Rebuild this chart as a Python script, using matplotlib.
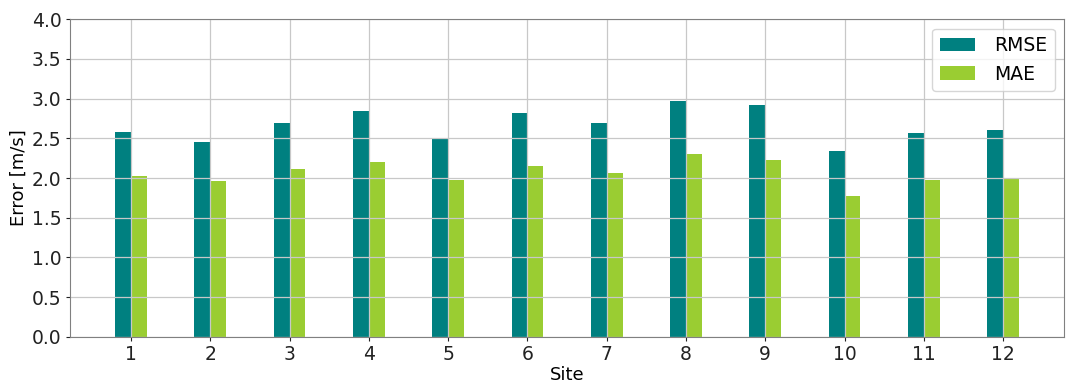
import numpy as np
import matplotlib
matplotlib.use("Agg")
import matplotlib.pyplot as plt

# Per-site wind speed errors
sites = [1, 2, 3, 4, 5, 6, 7, 8, 9, 10, 11, 12]
rmse = [2.58, 2.45, 2.69, 2.84, 2.50, 2.82, 2.69, 2.97, 2.92, 2.34, 2.57, 2.60]
mae = [2.03, 1.96, 2.11, 2.20, 1.97, 2.15, 2.07, 2.30, 2.23, 1.78, 1.97, 2.00]

plt.rcParams.update({"font.size": 13.5, "axes.labelsize": 13})

fig, ax = plt.subplots(figsize=(10.76, 3.85), dpi=100)
x = np.array(sites)
w = 0.2
ax.bar(x - w, rmse, width=w, align="edge", color="teal", label="RMSE")
ax.bar(x, mae, width=w, align="edge", color="yellowgreen", label="MAE")

ax.set_xticks(x)
ax.set_ylim(0, 4.0)
ax.set_yticks(np.arange(0, 4.01, 0.5))
ax.set_xlabel("Site", labelpad=1)
ax.set_ylabel("Error [m/s]", labelpad=3)
ax.grid(True, color="#c8c8c8", linewidth=0.9)
for spine in ax.spines.values():
    spine.set_color("#808080")
ax.tick_params(colors="#222222", labelcolor="#222222", length=3, pad=3)
ax.legend(loc="upper right", fontsize=13.5, handlelength=1.9, handletextpad=1.0)

fig.subplots_adjust(left=0.065, right=0.989, top=0.95, bottom=0.125)
fig.savefig("out.png", dpi=100)
